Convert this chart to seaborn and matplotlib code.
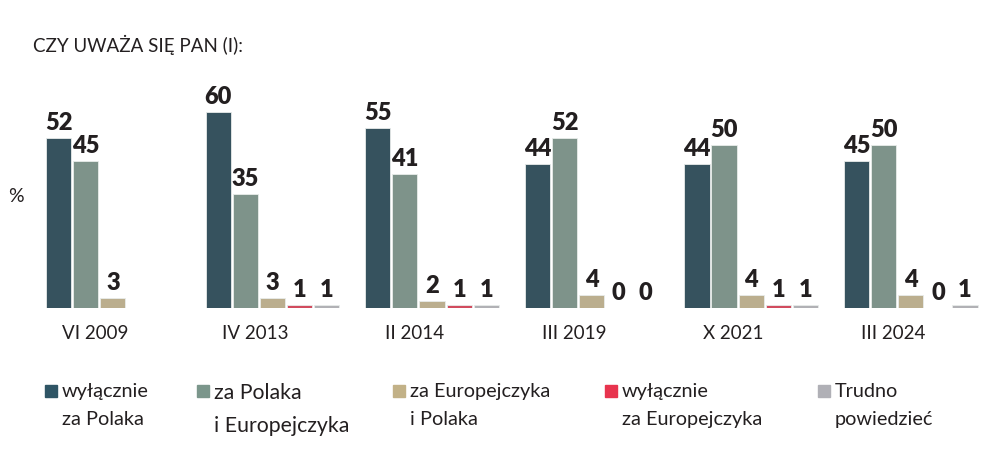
import numpy as np
import pandas as pd
import matplotlib
matplotlib.use("Agg")
import matplotlib.pyplot as plt
from matplotlib.patches import Rectangle
import seaborn as sns

# data
waves = ["VI 2009", "IV 2013", "II 2014", "III 2019", "X 2021", "III 2024"]
series = ["wyłącznie\nza Polaka", "za Polaka\ni Europejczyka", "za Europejczyka\ni Polaka",
          "wyłącznie\nza Europejczyka", "Trudno\npowiedzieć"]
only_pole = [52, 60, 55, 44, 44, 45]
pole_and_european = [45, 35, 41, 52, 50, 50]
european_and_pole = [3, 3, 2, 4, 4, 4]
only_european = [np.nan, 1, 1, 0, 1, 0]
hard_to_say = [np.nan, 1, 1, 0, 1, 1]
colors = ["#2f5565", "#7b968b", "#c2b187", "#e8344e", "#b0b0b6"]

values = [only_pole, pole_and_european, european_and_pole, only_european, hard_to_say]
rows = []
for s, vals in zip(series, values):
    for w, v in zip(waves, vals):
        rows.append({"wave": w, "series": s, "value": v})
df = pd.DataFrame(rows).dropna()

sns.set_style("white")
plt.rcParams["font.family"] = ["Lato", "DejaVu Sans"]
txt = "#231f20"

fig = plt.figure(figsize=(10, 4.61), dpi=100)
ax = fig.add_axes([0, 153 / 461, 1, 308 / 461])

sns.barplot(data=df, x="wave", y="value", hue="series", order=waves, hue_order=series,
            palette=colors, width=0.85, gap=0.07, legend=False, ax=ax,
            edgecolor="#e8ecea", linewidth=0.6)

for c in ax.containers:
    ax.bar_label(c, fmt="%.0f", padding=3, fontsize=17, fontweight="heavy", color=txt)

ax.set_xlim(-0.707, 5.559)
ax.set_ylim(0, 94.3)
ax.set_xticks(np.arange(len(waves)) - 0.11)
ax.set_xticklabels(waves, fontsize=13.5, color=txt)
ax.tick_params(axis="x", length=0, pad=12)
ax.set_yticks([])
ax.set_xlabel("")
ax.set_ylabel("")
sns.despine(ax=ax, left=True, bottom=True)

fig.text(0.033, 1 - 45 / 461, "CZY UWAŻA SIĘ PAN (I):", fontsize=13.5, color=txt, va="center")
fig.text(0.008, 1 - 197 / 461, "%", fontsize=14, color=txt, va="center")

# legend drawn by hand so the two-line entries sit like the original
leg_x = [45, 197, 393, 605, 818]
for x, s, col in zip(leg_x, series, colors):
    fig.patches.append(Rectangle((x / 1000, 1 - 397 / 461), 12 / 1000, 12 / 461,
                                 transform=fig.transFigure, color=col))
    fs = 15.3 if s.startswith("za Polaka") else 14.3
    fig.text((x + 17) / 1000, 1 - 383 / 461, s, fontsize=fs, color=txt, va="top",
             linespacing=1.8)

fig.savefig("out.png", dpi=100)
